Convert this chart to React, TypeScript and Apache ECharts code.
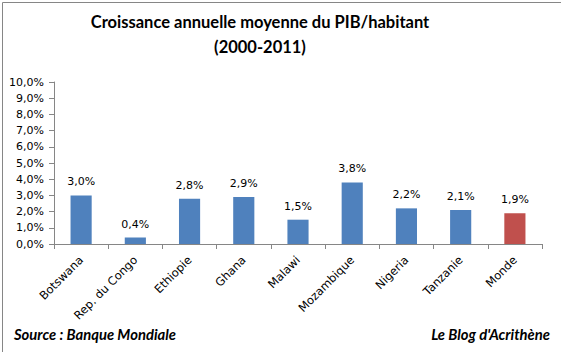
import React, { useEffect, useRef } from "react";
import * as echarts from "echarts";

const categories = ["Botswana", "Rep. du Congo", "Ethiopie", "Ghana", "Malawi", "Mozambique", "Nigeria", "Tanzanie", "Monde"];
const values = [3.0, 0.4, 2.8, 2.9, 1.5, 3.8, 2.2, 2.1, 1.9];
const highlight = "Monde";
const titleLines = ["Croissance annuelle moyenne du PIB/habitant", "(2000-2011)"];
const sourceText = "Source : Banque Mondiale";
const blogText = "Le Blog d'Acrithène";

const fmt = (v: number) => v.toFixed(1).replace(".", ",") + "%";

export default function App() {
  const ref = useRef<HTMLDivElement>(null);
  useEffect(() => {
    if (!ref.current) return;
    const chart = echarts.init(ref.current, null, { renderer: "svg" });
    const labelFont = "DejaVu Sans";
    chart.setOption({
      animation: false,
      backgroundColor: "#ffffff",
      grid: { left: 54, top: 82, right: 19, bottom: 108, containLabel: false },
      xAxis: {
        type: "category",
        data: categories,
        axisLine: { lineStyle: { color: "#868686" } },
        axisTick: { show: true, length: 5, lineStyle: { color: "#868686" } },
        axisLabel: { rotate: 45, margin: 14, fontFamily: labelFont, fontSize: 11.5, color: "#000" },
      },
      yAxis: {
        type: "value",
        min: 0,
        max: 10,
        interval: 1,
        splitLine: { show: false },
        axisLine: { show: true, lineStyle: { color: "#868686" } },
        axisTick: { show: true, length: 5, lineStyle: { color: "#868686" } },
        axisLabel: { formatter: (v: number) => fmt(v), margin: 10, fontFamily: labelFont, fontSize: 11, color: "#000" },
      },
      series: [
        {
          type: "bar",
          barWidth: "39%",
          data: values.map((v, i) => ({
            value: v,
            itemStyle: { color: categories[i] === highlight ? "#C0504D" : "#4F81BD" },
          })),
          label: {
            show: true,
            position: "top",
            distance: 8,
            formatter: (p: any) => fmt(p.value),
            fontFamily: labelFont,
            fontSize: 11,
            color: "#000",
          },
        },
      ],
      graphic: [
        {
          type: "rect",
          left: 0,
          top: 0,
          shape: { width: 560, height: 351 },
          style: { fill: "none", stroke: "#868686", lineWidth: 1 },
          silent: true,
        },
        {
          type: "text",
          x: 260,
          y: 22,
          style: { text: titleLines[0], font: "bold 16.5px Lato", fill: "#000", align: "center", verticalAlign: "middle" },
        },
        {
          type: "text",
          x: 260,
          y: 47,
          style: { text: titleLines[1], font: "bold 16.5px Lato", fill: "#000", align: "center", verticalAlign: "middle" },
        },
        {
          type: "text",
          x: 14,
          y: 334,
          style: { text: sourceText, font: "italic bold 14.8px Lato", fill: "#000", align: "left", verticalAlign: "middle" },
        },
        {
          type: "text",
          x: 550,
          y: 334,
          style: { text: blogText, font: "italic bold 14.8px Lato", fill: "#000", align: "right", verticalAlign: "middle" },
        },
      ],
    });
    return () => chart.dispose();
  }, []);
  return <div ref={ref} style={{ width: 561, height: 352, position: "absolute", left: 0, top: 0 }} />;
}
